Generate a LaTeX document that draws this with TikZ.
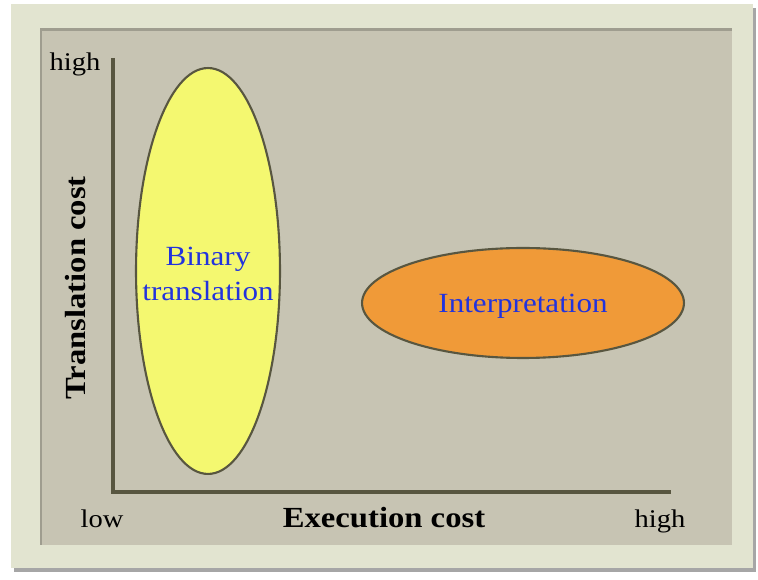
\documentclass[tikz,border=0pt]{standalone}
\usepackage{fontspec}
\setmainfont[FakeStretch=1.12]{Liberation Serif}
\usepackage{xcolor}
\usetikzlibrary{positioning, calc, shapes.geometric}

\definecolor{framecream}{RGB}{226,228,208}
\definecolor{panelgray}{RGB}{199,196,179}
\definecolor{axisdark}{RGB}{88,86,64}
\definecolor{binyellow}{RGB}{244,248,112}
\definecolor{intorange}{RGB}{240,154,56}
\definecolor{labelblue}{RGB}{34,51,221}

\begin{document}
\begin{tikzpicture}[
    x=0.02cm, y=-0.02cm,
    font=\fontsize{14.5}{17}\selectfont,
    blob/.style={draw=axisdark, line width=1.2pt, ellipse, inner sep=0pt},
    blobtext/.style={text=labelblue, align=center,
                     font=\fontsize{15.8}{19.8}\selectfont},
    axislbl/.style={anchor=base, font=\fontsize{16.6}{19}\selectfont\bfseries},
    tick/.style={anchor=base, font=\fontsize{14.5}{17}\selectfont},
  ]
  \useasboundingbox (0,0) rectangle (758,580);

  % picture frame and inner panel
  \fill[black!35] (14,8) rectangle (756,572);
  \fill[framecream] (11,4) rectangle (753,568);
  \fill[panelgray!80!black] (40,28) rectangle (732,545);
  \fill[panelgray] (42,31) rectangle (732,545);

  % axes
  \coordinate (ytop)   at (113,58);
  \coordinate (origin) at (113,492);
  \coordinate (xend)   at (671,492);
  \draw[axisdark, line width=1.8pt] (ytop) -- (origin) -- (xend);

  % the two regions (sizes in px x 0.02cm), text set on top
  \node[blob, fill=binyellow, minimum width=2.88cm, minimum height=8.12cm]
    (binary) at (208,271) {};
  \node[blobtext] (binarytxt) at (208,274) {Binary\\translation};
  \node[blob, fill=intorange, minimum width=6.44cm, minimum height=2.2cm]
    (interp) at (523,303) {};
  \node[blobtext] (interptxt) at (523,306) {Interpretation};

  % axis labels
  \node[tick] (yhigh) at (75,71)   {high};
  \node[tick] (xlow)  at (102,528) {low};
  \node[tick] (xhigh) at (660,528) {high};
  \node[axislbl] (xlbl) at (384,528) {Execution cost};
  \node[axislbl, rotate=90] (ylbl) at (85,288) {Translation cost};

\end{tikzpicture}
\end{document}
